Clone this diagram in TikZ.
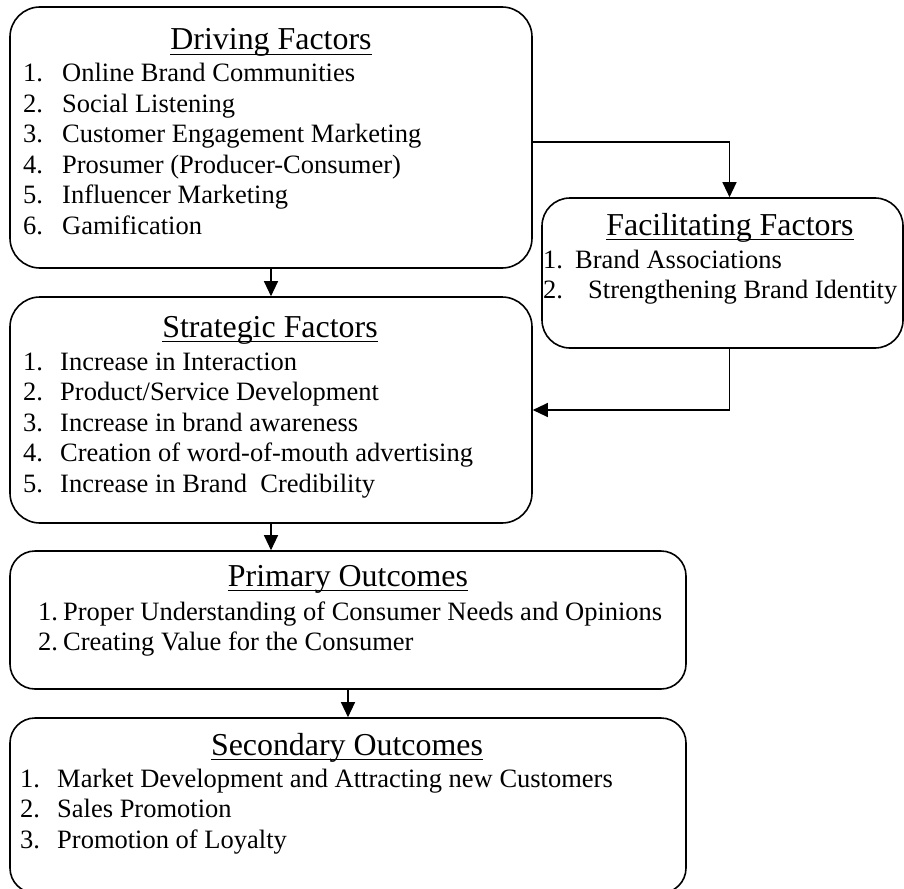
\documentclass[tikz,border=0pt]{standalone}
\usepackage{fontspec}
\setmainfont{Liberation Serif}
\usetikzlibrary{arrows.meta}
\newcommand{\hdfont}{\fontsize{31.9}{36}\selectfont}
\newcommand{\lsfont}{\fontsize{26.5}{30.5}\selectfont}
\newcommand{\ulhead}[1]{\setbox0\hbox{#1}\rlap{\rule[-5pt]{\wd0}{1.4pt}}\box0}
\newcommand{\itm}[3]{\makebox[#1][l]{#2}#3}

\begin{document}
\begin{tikzpicture}[x=1pt,y=-1pt]
	\tikzstyle{every node}+=[inner sep=0pt]
	\tikzstyle{factbox}=[draw, line width=1.6pt, rounded corners=30pt]
	\tikzstyle{outbox}=[draw, line width=1.6pt, rounded corners=25pt]
	\tikzstyle{head}=[anchor=base, font=\hdfont]
	\tikzstyle{list}=[anchor=base west, font=\lsfont]
	\tikzstyle{link}=[line width=1.2pt, -{Triangle[width=14pt,length=15pt]}]
	\clip (0,0) rectangle (904,888);
	\node[factbox, minimum width=522pt, minimum height=261pt] (drive) at (271,137.5) {};
	\node[head] (drive-h) at (271,50) {\ulhead{Driving Factors}};
	\node[list] (drive-l) at (23,82) {\begin{tabular}[t]{@{}l@{}}
		\itm{39pt}{1.}{Online Brand Communities}\\
		\itm{39pt}{2.}{Social Listening}\\
		\itm{39pt}{3.}{Customer Engagement Marketing}\\
		\itm{39pt}{4.}{Prosumer (Producer-Consumer)}\\
		\itm{39pt}{5.}{Influencer Marketing}\\
		\itm{39pt}{6.}{Gamification}
	\end{tabular}};
	\node[factbox, rounded corners=28pt, minimum width=361pt, minimum height=150pt] (fac) at (722.5,273) {};
	\node[head] (fac-h) at (730,235) {\ulhead{Facilitating Factors}};
	\node[list] (fac-l) at (543,268) {\begin{tabular}[t]{@{}l@{}}
		\itm{32pt}{1.}{Brand Associations}\\
		\itm{45pt}{2.}{Strengthening Brand Identity}
	\end{tabular}};
	\node[factbox, minimum width=522pt, minimum height=226pt] (strat) at (271,410) {};
	\node[head] (strat-h) at (270,337) {\ulhead{Strategic Factors}};
	\node[list] (strat-l) at (23,370) {\begin{tabular}[t]{@{}l@{}}
		\itm{37pt}{1.}{Increase in Interaction}\\
		\itm{37pt}{2.}{Product/Service Development}\\
		\itm{37pt}{3.}{Increase in brand awareness}\\
		\itm{37pt}{4.}{Creation of word-of-mouth advertising}\\
		\itm{37pt}{5.}{Increase in Brand\ \ Credibility}
	\end{tabular}};
	\node[outbox, minimum width=676pt, minimum height=138pt] (prim) at (348,620) {};
	\node[head] (prim-h) at (348,586) {\ulhead{Primary Outcomes}};
	\node[list] (prim-l) at (38,620) {\begin{tabular}[t]{@{}l@{}}
		\itm{25pt}{1.}{Proper Understanding of Consumer Needs and Opinions}\\
		\itm{25pt}{2.}{Creating Value for the Consumer}
	\end{tabular}};
	\node[outbox, minimum width=676pt, minimum height=175pt] (sec) at (348,805.5) {};
	\node[head] (sec-h) at (347,755) {\ulhead{Secondary Outcomes}};
	\node[list] (sec-l) at (20,787) {\begin{tabular}[t]{@{}l@{}}
		\itm{37pt}{1.}{Market Development and Attracting new Customers}\\
		\itm{37pt}{2.}{Sales Promotion}\\
		\itm{37pt}{3.}{Promotion of Loyalty}
	\end{tabular}};
	\draw[link] ([yshift=-4.5pt]drive.east) -| ([xshift=7pt]fac.north);
	\draw[link] ([xshift=7pt]fac.south) |- (strat.east);
	\draw[link] (drive.south) -- (strat.north);
	\draw[link] (strat.south) -- (prim.north -| strat.south);
	\draw[link] (prim.south) -- (sec.north);
\end{tikzpicture}
\end{document}
